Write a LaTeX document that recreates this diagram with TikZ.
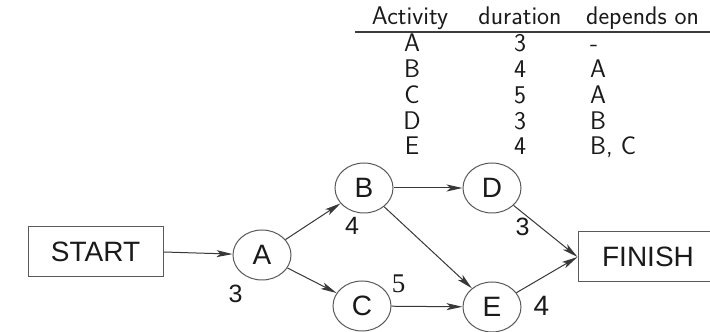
\documentclass[tikz,border=0pt]{standalone}
\usepackage{fontspec}
\newfontfamily\arialf{Liberation Sans}
\newfontfamily\serf{Liberation Serif}
\usetikzlibrary{shapes.geometric,arrows.meta}
\definecolor{linec}{HTML}{5A5A5A}
\definecolor{arrc}{HTML}{383838}
\definecolor{txt}{HTML}{1A1A1A}
\begin{document}
\begin{tikzpicture}[x=1pt,y=1pt,
  ev/.style={ellipse,draw=linec,line width=1pt,minimum width=58pt,minimum height=50pt,inner sep=0pt,font=\arialf\fontsize{28}{30}\selectfont,text=txt},
  term/.style={rectangle,draw=linec,line width=1pt,minimum height=50pt,inner sep=0pt,font=\arialf\fontsize{28}{30}\selectfont,text=txt},
  arr/.style={draw=arrc,line width=1pt,-{Stealth[length=16pt,width=7pt,inset=4pt]}},
  dur/.style={font=\arialf\fontsize{25}{27}\selectfont,text=txt,inner sep=0pt},
  durs/.style={font=\serf\fontsize{27}{29}\selectfont,text=txt,inner sep=0pt},
  tab/.style={font=\sffamily\fontsize{25.5}{27}\selectfont,text=txt,inner sep=0pt,anchor=base},
  tabl/.style={tab,anchor=base west}]
\useasboundingbox (0,0) rectangle (710,332);
\fill[white] (0,0) rectangle (710,332);

% table
\node[tab] (h1) at (410,307) {Activity};
\node[tab] (h2) at (520,307) {duration};
\node[tabl] (h3) at (586,307) {depends on};
\coordinate (rl) at (355,300);
\coordinate (rr) at (712,300);
\draw[line width=1.3pt,draw=txt!85] (rl) -- (rr);

\node[tab] (a1) at (412,280) {A};
\node[tab] (a2) at (520,280) {3};
\node[tabl] (a3) at (590,280) {-};
\node[tab] (b1) at (412,254) {B};
\node[tab] (b2) at (520,254) {4};
\node[tabl] (b3) at (590,254) {A};
\node[tab] (c1) at (412,228.5) {C};
\node[tab] (c2) at (520,228.5) {5};
\node[tabl] (c3) at (590,228.5) {A};
\node[tab] (d1) at (412,202.5) {D};
\node[tab] (d2) at (520,202.5) {3};
\node[tabl] (d3) at (590,202.5) {B};
\node[tab] (e1) at (412,177) {E};
\node[tab] (e2) at (520,177) {4};
\node[tabl] (e3) at (590,177) {B, C};

% network
\node[term,minimum width=135pt] (START) at (95.5,80) {START};
\node[term,minimum width=140pt] (FINISH) at (648,75) {FINISH};
\node[ev] (A) at (262,77) {A};
\node[ev] (B) at (364,144) {B};
\node[ev] (C) at (362,26) {C};
\node[ev] (D) at (492,144) {D};
\node[ev] (E) at (492,25) {E};

\draw[arr] (START.east) -- (A);
\draw[arr] (A) -- (B);
\draw[arr] (A) -- (C);
\draw[arr] (B) -- (D);
\draw[arr] (B) -- (E);
\draw[arr] (C) -- (E);
\draw[arr] (D) -- (FINISH.west);
\draw[arr] (E) -- (FINISH.west);

\node[dur] (lA) at (235.5,38.5) {3};
\node[dur] (lB) at (352,106) {4};
\node[durs] (lC) at (398.5,48) {5};
\node[dur] (lD) at (522.5,105.5) {3};
\node[dur,font=\arialf\fontsize{28}{30}\selectfont] (lE) at (541.5,26) {4};
\end{tikzpicture}
\end{document}
